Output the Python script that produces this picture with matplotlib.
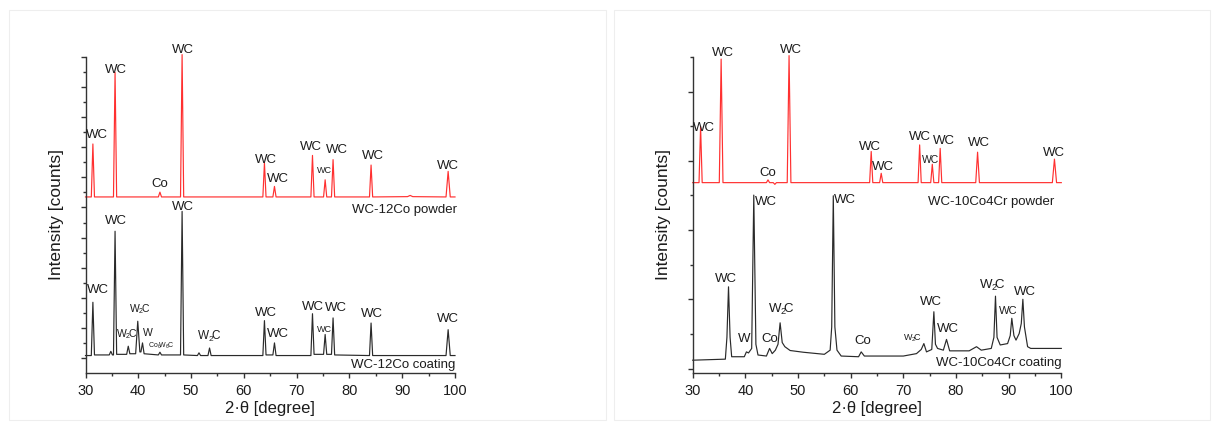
import matplotlib
matplotlib.use("Agg")
import matplotlib.pyplot as plt
from matplotlib.patches import Rectangle
from matplotlib.ticker import MultipleLocator, FixedLocator

plt.rcParams['font.family'] = ['Liberation Sans', 'DejaVu Sans']
plt.rcParams['mathtext.default'] = 'regular'

# ---------------- WC-12Co : powder (offset) and coating ----------------
p12_x = [30, 31.1, 31.4, 31.7, 35.3, 35.6, 35.9, 43.8, 44.1, 44.4, 48.0, 48.3, 48.6,
         63.6, 63.9, 64.2, 65.5, 65.8, 66.1, 72.7, 73.0, 73.3, 75.1, 75.4, 75.7,
         76.6, 76.9, 77.2, 83.8, 84.1, 84.4, 91.0, 91.5, 92.0, 98.3, 98.7, 99.1, 100]
p12_y = [5.35, 5.35, 7.11, 5.35, 5.35, 9.49, 5.35, 5.35, 5.51, 5.35, 5.35, 10.08, 5.35,
         5.35, 6.48, 5.35, 5.35, 5.70, 5.35, 5.35, 6.73, 5.35, 5.35, 5.92, 5.35,
         5.35, 6.59, 5.35, 5.35, 6.41, 5.35, 5.36, 5.40, 5.36, 5.35, 6.20, 5.35, 5.35]

c12_x = [30, 31.1, 31.4, 31.7, 34.5, 34.8, 35.1, 35.3, 35.6, 35.9, 37.8, 38.1, 38.4,
         39.5, 39.9, 40.3, 40.5, 40.8, 41.1, 43.8, 44.1, 44.4, 48.0, 48.3, 48.6,
         51.2, 51.5, 51.8, 53.2, 53.5, 53.8, 63.6, 63.9, 64.2, 65.5, 65.8, 66.1,
         72.7, 73.0, 73.3, 75.1, 75.4, 75.7, 76.6, 76.9, 77.2, 83.8, 84.1, 84.4,
         98.3, 98.7, 99.1, 100]
c12_y = [0.08, 0.08, 1.85, 0.10, 0.10, 0.22, 0.10, 0.10, 4.21, 0.12, 0.12, 0.39, 0.14,
         0.14, 1.22, 0.20, 0.20, 0.50, 0.14, 0.10, 0.19, 0.10, 0.10, 4.87, 0.10,
         0.08, 0.17, 0.08, 0.08, 0.33, 0.08, 0.08, 1.24, 0.10, 0.10, 0.50, 0.08,
         0.08, 1.47, 0.12, 0.12, 0.78, 0.12, 0.12, 1.33, 0.10, 0.08, 1.16, 0.08,
         0.08, 0.94, 0.08, 0.08]

# phase labels: text, 2theta, height, font size
p12_lbl = ["WC", "WC", "Co", "WC", "WC", "WC", "WC", "WC", "WC", "WC", "WC"]
p12_lx = [32.1, 35.7, 44.0, 48.4, 64.1, 66.5, 72.8, 75.2, 77.7, 84.5, 98.7]
p12_ly = [7.42, 9.58, 5.79, 10.22, 6.59, 5.95, 7.00, 6.23, 6.92, 6.70, 6.37]
p12_ls = [9.5, 9.5, 9.5, 9.5, 9.5, 9.5, 9.5, 6.5, 9.5, 9.5, 9.5]

W2C = "W$_2\\!$C"
c12_lbl = ["WC", "WC", W2C, W2C, "W", "Co$_6\\!$W$_6\\!$C", "WC", W2C,
           "WC", "WC", "WC", "WC", "WC", "WC", "WC"]
c12_lx = [32.4, 35.7, 40.2, 37.8, 41.9, 44.4, 48.4, 53.5, 64.1, 66.4, 73.0, 75.2,
          77.4, 84.2, 98.7]
c12_ly = [2.27, 4.54, 1.63, 0.80, 0.83, 0.39, 5.02, 0.72, 1.50, 0.80, 1.69, 0.96,
          1.66, 1.46, 1.30]
c12_ls = [9.5, 9.5, 7.5, 7.5, 7.5, 5, 9.5, 8.5, 9.5, 9.5, 9.5, 6.5, 9.5, 9.5, 9.5]

# ---------------- WC-10Co4Cr : powder (offset) and coating ----------------
p10_x = [30, 31.2, 31.5, 31.8, 35.05, 35.4, 35.75, 44.0, 44.3, 44.6, 45.3, 45.6, 45.9,
         47.95, 48.3, 48.65, 63.6, 63.9, 64.2, 65.5, 65.8, 66.1, 72.8, 73.1, 73.4,
         75.2, 75.5, 75.8, 76.7, 77.0, 77.3, 83.75, 84.1, 84.45, 98.3, 98.7, 99.1, 100]
p10_y = [5.37, 5.37, 6.99, 5.37, 5.37, 8.94, 5.37, 5.37, 5.45, 5.37, 5.37, 5.32, 5.37,
         5.37, 9.04, 5.37, 5.37, 6.27, 5.37, 5.37, 5.64, 5.37, 5.37, 6.46, 5.37,
         5.37, 5.90, 5.37, 5.37, 6.36, 5.37, 5.37, 6.25, 5.37, 5.37, 6.05, 5.37, 5.37]

c10_x = [30, 36.2, 36.5, 36.8, 37.1, 37.4, 39.8, 40.2, 40.6, 41.2, 41.6, 42.0, 42.4,
         44.0, 44.6, 45.1, 45.7, 46.2, 46.6, 47.0, 47.5, 48.5, 51.0, 55.0, 56.1,
         56.4, 56.7, 57.0, 57.4, 58.2, 61.5, 62.0, 62.6, 70.0, 72.5, 73.4, 73.9,
         74.4, 75.4, 75.8, 76.1, 76.5, 77.6, 78.2, 78.8, 82.5, 83.9, 84.8, 86.7,
         87.2, 87.5, 87.8, 88.4, 89.8, 90.3, 90.6, 91.0, 91.4, 92.0, 92.4, 92.7,
         93.0, 93.6, 94.2, 100]
c10_y = [0.24, 0.27, 0.90, 2.36, 0.90, 0.34, 0.34, 0.48, 0.45, 0.58, 5.01, 0.70, 0.39,
         0.36, 0.58, 0.43, 0.53, 0.70, 1.32, 0.75, 0.63, 0.52, 0.47, 0.41, 0.53,
         1.20, 4.99, 1.20, 0.53, 0.36, 0.34, 0.48, 0.36, 0.36, 0.43, 0.55, 0.72,
         0.48, 0.55, 1.64, 0.70, 0.58, 0.53, 0.84, 0.51, 0.51, 0.63, 0.53, 0.58,
         0.90, 2.09, 0.90, 0.68, 0.72, 0.95, 1.45, 0.95, 0.82, 1.01, 1.30, 2.00,
         1.20, 0.63, 0.58, 0.58]

p10_lbl = ["WC", "WC", "Co", "WC", "WC", "WC", "WC", "WC", "WC", "WC", "WC"]
p10_lx = [32.2, 35.8, 44.3, 48.6, 63.6, 66.1, 73.1, 75.2, 77.8, 84.3, 98.6]
p10_ly = [6.94, 9.13, 5.66, 9.21, 6.41, 5.83, 6.70, 6.03, 6.56, 6.51, 6.22]
p10_ls = [9.5, 9.5, 9.5, 9.5, 9.5, 9.5, 9.5, 7.5, 9.5, 9.5, 9.5]

c10_lbl = ["WC", "W", "WC", "Co", W2C, "WC", "Co", W2C, "WC", "WC",
           W2C, "WC", "WC"]
c10_lx = [36.4, 39.7, 44.0, 44.6, 46.8, 59.0, 62.2, 71.8, 75.3, 78.5, 87.0, 89.9, 93.0]
c10_ly = [2.60, 0.84, 4.82, 0.84, 1.71, 4.87, 0.80, 0.87, 1.93, 1.13, 2.41, 1.67, 2.22]
c10_ls = [9.5, 9.5, 9.5, 9.5, 9.5, 9.5, 9.5, 6.5, 9.5, 9.5, 9.5, 8, 9.5]

TXT = '#1c1c1c'
RED = '#ff3030'
BLK = '#2a2a2a'

fig = plt.figure(figsize=(12.16, 4.26), dpi=100)

# faint frames around the two panels
for (x0, y0, w, h) in [(9, 6, 597, 410), (614, 6, 596, 410)]:
    fig.add_artist(Rectangle((x0 / 1216, y0 / 426), w / 1216, h / 426,
                             transform=fig.transFigure, fill=False,
                             edgecolor='#eeeeee', lw=0.8))


def panel(rect, ylim, major_y, minor_y, traces, labels, names):
    ax = fig.add_axes(rect)
    for x, y, c in traces:
        ax.plot(x, y, color=c, lw=0.85, clip_on=False)
    for txt, lx, ly, ls in labels:
        for t, a, b, s in zip(txt, lx, ly, ls):
            ax.text(a, b, t, ha='center', va='center', fontsize=s, color=TXT,
                    clip_on=False)
    for t, a, b in names:
        ax.text(a, b, t, ha='right', va='center', fontsize=9.5, color=TXT)
    ax.set_xlim(30, 100)
    ax.set_ylim(*ylim)
    for s in ('top', 'right'):
        ax.spines[s].set_visible(False)
    for s in ('left', 'bottom'):
        ax.spines[s].set_color('#333333')
        ax.spines[s].set_linewidth(1.0)
    ax.xaxis.set_major_locator(MultipleLocator(10))
    ax.xaxis.set_minor_locator(MultipleLocator(5))
    ax.yaxis.set_major_locator(FixedLocator(major_y))
    ax.yaxis.set_minor_locator(FixedLocator(minor_y))
    ax.tick_params(axis='both', which='major', direction='out', length=3.5,
                   width=1.0, color='#333333', labelsize=10.5, labelcolor=TXT, pad=4.5)
    ax.tick_params(axis='both', which='minor', direction='out', length=2,
                   width=1.0, color='#333333')
    ax.tick_params(axis='y', labelleft=False)
    ax.set_xlabel('2·θ [degree]', fontsize=12, color=TXT, labelpad=2)
    ax.set_ylabel('Intensity [counts]', fontsize=12.5, color=TXT, labelpad=10)
    return ax


panel([85.5 / 1216, 53 / 426, 369.5 / 1216, 316 / 426], (-0.5, 10),
      [i for i in range(0, 11)], [i + 0.5 for i in range(0, 10)],
      [(p12_x, p12_y, RED), (c12_x, c12_y, BLK)],
      [(p12_lbl, p12_lx, p12_ly, p12_ls), (c12_lbl, c12_lx, c12_ly, c12_ls)],
      [('WC-12Co powder', 100.3, 4.9), ('WC-12Co coating', 100.0, -0.25)])

panel([692.7 / 1216, 53 / 426, 368.6 / 1216, 316 / 426], (-0.13, 9),
      [0, 2, 4, 6, 8], [1, 3, 5, 7, 9],
      [(p10_x, p10_y, RED), (c10_x, c10_y, BLK)],
      [(p10_lbl, p10_lx, p10_ly, p10_ls), (c10_lbl, c10_lx, c10_ly, c10_ls)],
      [('WC-10Co4Cr powder', 98.7, 4.8), ('WC-10Co4Cr coating', 100.0, 0.16)])

fig.savefig('out.png', dpi=100, facecolor='white')
